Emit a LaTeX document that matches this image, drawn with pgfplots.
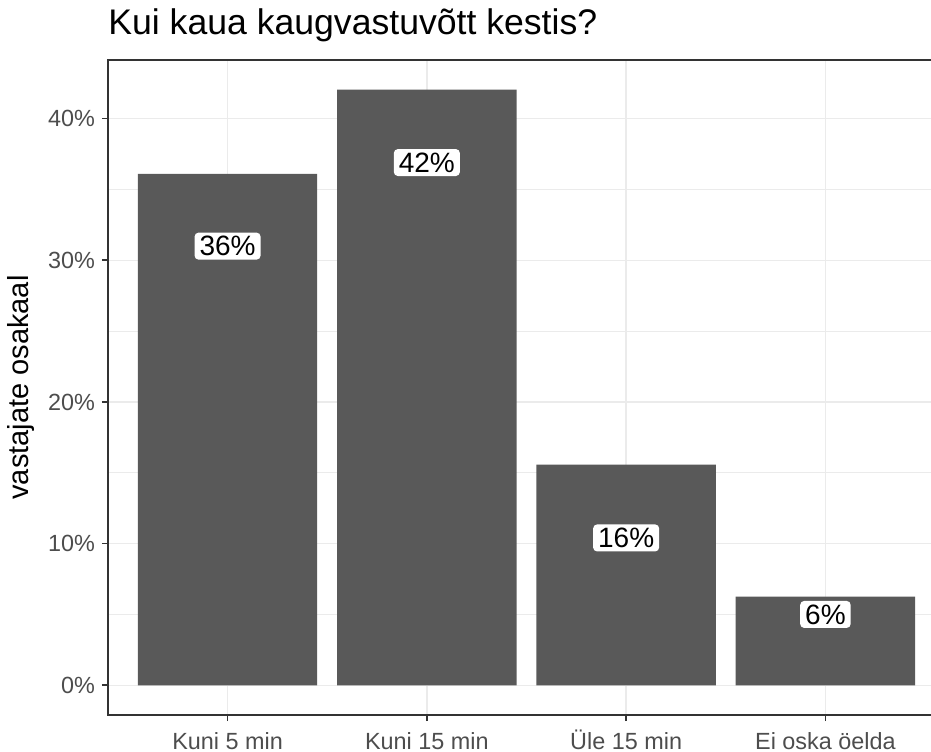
\documentclass[border=0pt]{standalone}
\usepackage{pgfplots}
\pgfplotsset{compat=1.18}
\usepackage{fontspec}
\setmainfont{Liberation Sans}
\definecolor{barfill}{HTML}{595959}
\definecolor{gridc}{HTML}{EBEBEB}
\definecolor{axc}{HTML}{333333}
\definecolor{tickc}{HTML}{4D4D4D}

\begin{document}
\begin{tikzpicture}
\begin{axis}[
  scale only axis,
  width=418.5pt, height=327.5pt,
  xmin=-0.6, xmax=3.6,
  ymin=-2.1, ymax=44.14,
  xtick={0,1,2,3},
  xticklabels={Kuni 5 min,Kuni 15 min,Üle 15 min,Ei oska öelda},
  ytick={0,10,20,30,40},
  yticklabels={0\%,10\%,20\%,30\%,40\%},
  minor ytick={5,15,25,35},
  grid=both,
  major grid style={color=gridc, line width=0.65pt},
  minor grid style={color=gridc, line width=0.4pt},
  axis line style={color=axc, line width=0.9pt},
  tick align=outside,
  major tick length=3pt,
  minor tick length=0pt,
  tick style={color=axc, line width=0.8pt},
  xtick pos=bottom, ytick pos=left,
  ticklabel style={font=\fontsize{11.7}{14}\selectfont, text=tickc},
  xticklabel style={anchor=base, yshift=-14pt},
  /pgf/number format/assume math mode=true,
  ylabel={vastajate osakaal},
  ylabel style={font=\fontsize{14.5}{17}\selectfont},
]
% tulbad
\addplot[ybar, bar width=0.9, fill=barfill, draw=none]
  coordinates {(0,36.1) (1,42.04) (2,15.58) (3,6.25)};
% sildid
\addplot[only marks, mark=none,
  nodes near coords,
  point meta=explicit symbolic,
  every node near coord/.append style={
    anchor=center, fill=white, rounded corners=2pt,
    inner xsep=2.5pt, inner ysep=1.8pt,
    font=\fontsize{14}{16}\selectfont, text=black}]
  table[meta=lab] {
x y lab
0 31.0 36\%
1 36.9 42\%
2 10.4 16\%
3 5.0 6\%
};
\end{axis}
\node[anchor=base west, inner sep=0pt, font=\fontsize{17.8}{21}\selectfont]
  at (0pt,340pt) {Kui kaua kaugvastuvõtt kestis?};
\pgfresetboundingbox
\path[use as bounding box] (-54pt,-18pt) rectangle (411.5pt,357.5pt);
\end{tikzpicture}
\end{document}
